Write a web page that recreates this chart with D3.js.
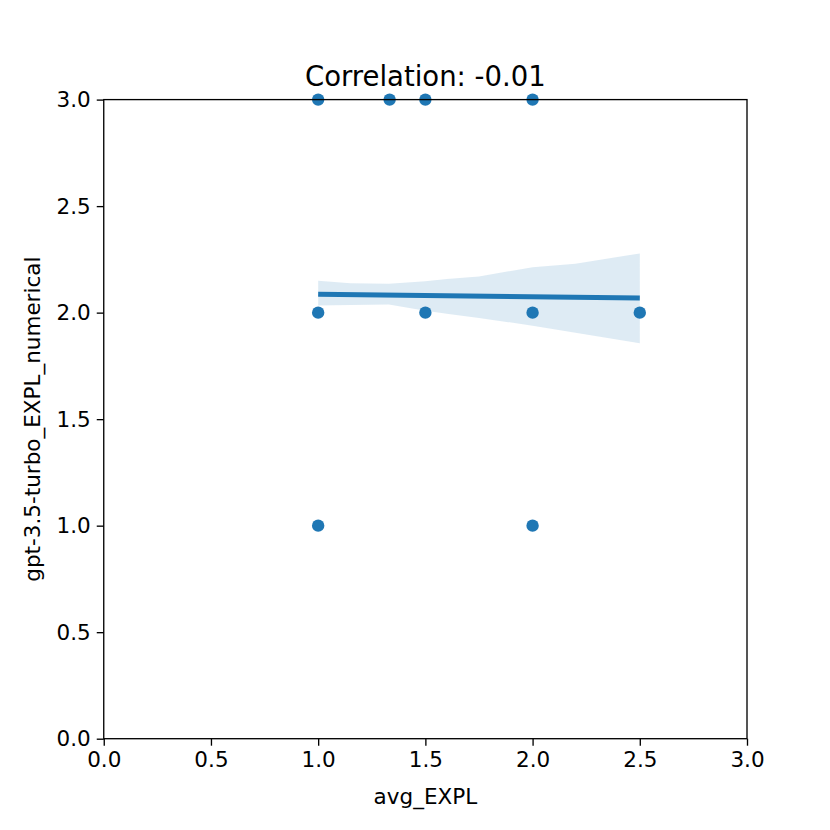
<!DOCTYPE html>
<html>
<head>
<meta charset="utf-8">
<script src="https://cdn.jsdelivr.net/npm/d3@7"></script>
<style>
  html, body { margin: 0; padding: 0; background: #fff; }
  svg { display: block; }
  text { font-family: "DejaVu Sans", sans-serif; fill: #000; }
</style>
</head>
<body>
<div id="chart"></div>
<script>
// ---- data ----
const pointsX = [1.0, 1.3333, 1.5, 2.0, 1.0, 1.5, 2.0, 2.5, 1.0, 2.0];
const pointsY = [3, 3, 3, 3, 2, 2, 2, 2, 1, 1];
const fitX = [1.0, 2.5];
const fitY = [2.086, 2.069];
const bandX = [1.0, 1.15, 1.33, 1.5, 1.6, 1.75, 2.0, 2.2, 2.5];
const bandLow = [2.033, 2.036, 2.038, 2.009, 1.995, 1.975, 1.939, 1.905, 1.856];
const bandHigh = [2.150, 2.138, 2.135, 2.147, 2.158, 2.170, 2.213, 2.230, 2.278];
const xTicks = [0.0, 0.5, 1.0, 1.5, 2.0, 2.5, 3.0];
const yTicks = [0.0, 0.5, 1.0, 1.5, 2.0, 2.5, 3.0];
const titleText = "Correlation: -0.01";
const xLabel = "avg_EXPL";
const yLabel = "gpt-3.5-turbo_EXPL_numerical";

// ---- layout ----
const W = 830, H = 830;
const mLeft = 103.75, mRight = 747, mTop = 99.6, mBottom = 738.7;
const color = "#1f77b4";

const svg = d3.select("#chart").append("svg").attr("width", W).attr("height", H);

const x = d3.scaleLinear().domain([0, 3]).range([mLeft, mRight]);
const y = d3.scaleLinear().domain([0, 3]).range([mBottom, mTop]);

// band
const band = bandX.map((d, i) => ({x: d, lo: bandLow[i], hi: bandHigh[i]}));
svg.append("path")
  .datum(band)
  .attr("d", d3.area().x(d => x(d.x)).y0(d => y(d.lo)).y1(d => y(d.hi)))
  .attr("fill", color).attr("fill-opacity", 0.15).attr("stroke", "none");

// points
const pts = pointsX.map((d, i) => ({x: d, y: pointsY[i]}));
svg.append("g").selectAll("circle").data(pts).join("circle")
  .attr("cx", d => x(d.x)).attr("cy", d => y(d.y)).attr("r", 6.2)
  .attr("fill", color);

// fit line
const fit = fitX.map((d, i) => ({x: d, y: fitY[i]}));
svg.append("path").datum(fit)
  .attr("d", d3.line().x(d => x(d.x)).y(d => y(d.y)))
  .attr("stroke", color).attr("stroke-width", 5).attr("fill", "none");

// axes
const fmt = d3.format(".1f");
const xAxis = svg.append("g").attr("transform", `translate(0,${mBottom})`)
  .call(d3.axisBottom(x).tickValues(xTicks).tickFormat(fmt).tickSizeOuter(0).tickSize(7).tickPadding(6));
const yAxis = svg.append("g").attr("transform", `translate(${mLeft},0)`)
  .call(d3.axisLeft(y).tickValues(yTicks).tickFormat(fmt).tickSizeOuter(0).tickSize(7).tickPadding(6));
[xAxis, yAxis].forEach(g => {
  g.selectAll("path.domain").remove();
  g.selectAll("line").attr("stroke", "#000").attr("stroke-width", 1.33);
  g.selectAll("text").attr("font-size", 21.5).attr("font-family", "DejaVu Sans").attr("fill", "#000");
});

// frame
svg.append("rect").attr("x", mLeft).attr("y", mTop)
  .attr("width", mRight - mLeft).attr("height", mBottom - mTop)
  .attr("fill", "none").attr("stroke", "#000").attr("stroke-width", 1.33);

// labels
svg.append("text").attr("x", (mLeft + mRight) / 2).attr("y", 86)
  .attr("text-anchor", "middle").attr("font-size", 27.5).text(titleText);
svg.append("text").attr("x", (mLeft + mRight) / 2).attr("y", 804)
  .attr("text-anchor", "middle").attr("font-size", 21.5).text(xLabel);
svg.append("text").attr("transform", `translate(40,${(mTop + mBottom) / 2}) rotate(-90)`)
  .attr("text-anchor", "middle").attr("font-size", 21.5).text(yLabel);
</script>
</body>
</html>
